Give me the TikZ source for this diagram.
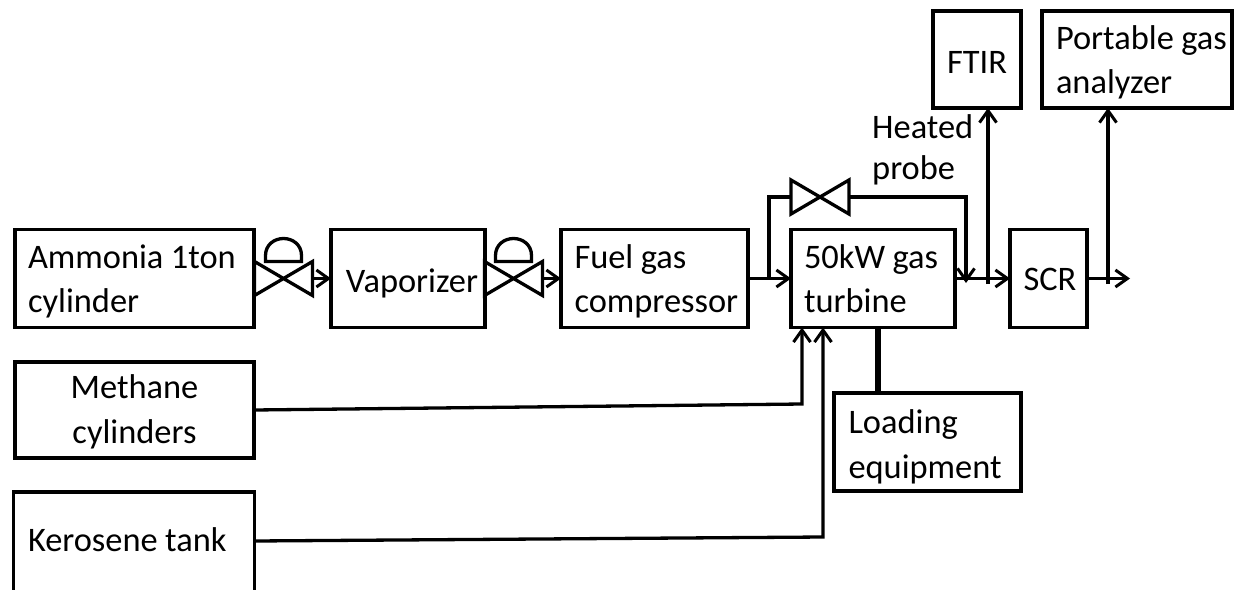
\documentclass[tikz,border=0pt]{standalone}
\usepackage{fontspec}
\setmainfont{Carlito}
\usetikzlibrary{arrows.meta,calc}
\newcommand\lbl[2][3pt]{\raisebox{-#1}[\height][\depth]{\spaceskip=7.5pt\relax\begin{tabular}{@{}l@{}}#2\end{tabular}}}
\newcommand\clbl[2][3pt]{\raisebox{-#1}[\height][\depth]{\spaceskip=7.5pt\relax\begin{tabular}{@{}c@{}}#2\end{tabular}}}
\tikzset{
  x=1pt,y=-1pt,
  every node/.style={font=\fontsize{34.4}{44.5}\selectfont},
  unit/.style={draw=black,line width=3.4pt,outer sep=0pt,inner xsep=0pt,inner ysep=0pt,align=left},
  flow/.style={line width=3.3pt,-{Straight Barb[length=12pt,width=17pt,line width=3pt]}},
  pipe/.style={line width=3.3pt},
  shaft/.style={line width=5.5pt},
  valve/.pic={\draw[line width=3.3pt,line join=miter] (-29,-17) -- (29,17) -- (29,-17) -- (-29,17) -- cycle;},
  dome/.pic={\draw[line width=3.3pt] (-18,-17) -- (-18,-23) .. controls (-18,-34) and (-9,-40) .. (0,-40) .. controls (9,-40) and (18,-34) .. (18,-23) -- (18,-17) -- cycle;}
}
\begin{document}
\begin{tikzpicture}
\path[use as bounding box,clip] (0,0) rectangle (1236,589);
% boxes
\node[unit,minimum width=239pt,minimum height=98pt,text width=213pt] (amm) at (134.5,278.5) {\lbl{Ammonia 1ton\\cylinder}};
\node[unit,minimum width=154pt,minimum height=98pt,align=center] (vap) at (408,278.5) {\hspace*{8pt}\clbl[5pt]{Vaporizer}};
\node[unit,minimum width=187pt,minimum height=98pt,text width=160pt] (fuel) at (654.5,278.5) {\lbl{Fuel gas\\compressor}};
\node[unit,minimum width=164pt,minimum height=98pt,text width=138pt] (turb) at (873,278.5) {\lbl{50kW gas\\turbine}};
\node[unit,minimum width=77pt,minimum height=98pt,align=center] (scr) at (1048.5,278.5) {\hspace*{3pt}\clbl{SCR}};
\node[unit,minimum width=88pt,minimum height=97pt,align=center] (ftir) at (977,59.5) {\clbl[5pt]{FTIR}};
\node[unit,minimum width=190pt,minimum height=97pt,text width=162pt] (port) at (1137,59.5) {\lbl{Portable gas\\analyzer}};
\node[unit,minimum width=239pt,minimum height=96pt,align=center] (meth) at (134.5,410) {\clbl[2pt]{Methane\\cylinders}};
\node[unit,minimum width=187pt,minimum height=98pt,text width=158pt] (load) at (927.5,442) {\lbl[5pt]{Loading\\equipment}};
\node[unit,minimum width=241pt,minimum height=102pt,text width=212pt] (ker) at (134,543) {\lbl[0pt]{Kerosene tank}};
\node[align=left,anchor=north west,inner sep=0pt] (probe) at (872,107) {\lbl[0pt]{Heated\\[-3pt]probe}};
% valves
\coordinate (v1) at (283.5,278.5);
\coordinate (v2) at (513.5,278.5);
\coordinate (v3) at (820,197);
\path (v1) pic {valve} pic {dome};
\path (v2) pic {valve} pic {dome};
\path (v3) pic {valve};
\coordinate (v1r) at (312.5,278.5);
\coordinate (v2r) at (542.5,278.5);
\coordinate (v3l) at (791,197);
\coordinate (v3r) at (849,197);
% main flow
\draw[flow] (v1r) -- (vap.west);
\draw[flow] (v2r) -- (fuel.west);
\draw[flow] (fuel.east) -- (turb.west);
\draw[flow] (turb.east) -- (scr.west);
\coordinate (out) at (1130,278.5);
\draw[flow] (scr.east) -- (out);
% bypass
\coordinate (bl) at (769,278.5);
\coordinate (br) at (966,283);
\draw[pipe] (bl) |- (v3l);
\draw[flow] (v3r) -| (br);
% sampling
\coordinate (s1) at (988,284);
\coordinate (s2) at (1108,284);
\draw[flow] (s1) -- (s1 |- ftir.south);
\draw[flow] (s2) -- (s2 |- port.south);
% fuel feeds
\coordinate (m1) at (802,404);
\coordinate (k1) at (823,537);
\coordinate (k0) at (254.5,541);
\draw[flow] (meth.east) -- (m1) -- (m1 |- turb.south);
\draw[flow] (k0) -- (k1) -- (k1 |- turb.south);
% shaft
\coordinate (sh) at (878,393);
\draw[shaft] (sh |- turb.south) -- (sh |- load.north);
\end{tikzpicture}
\end{document}
